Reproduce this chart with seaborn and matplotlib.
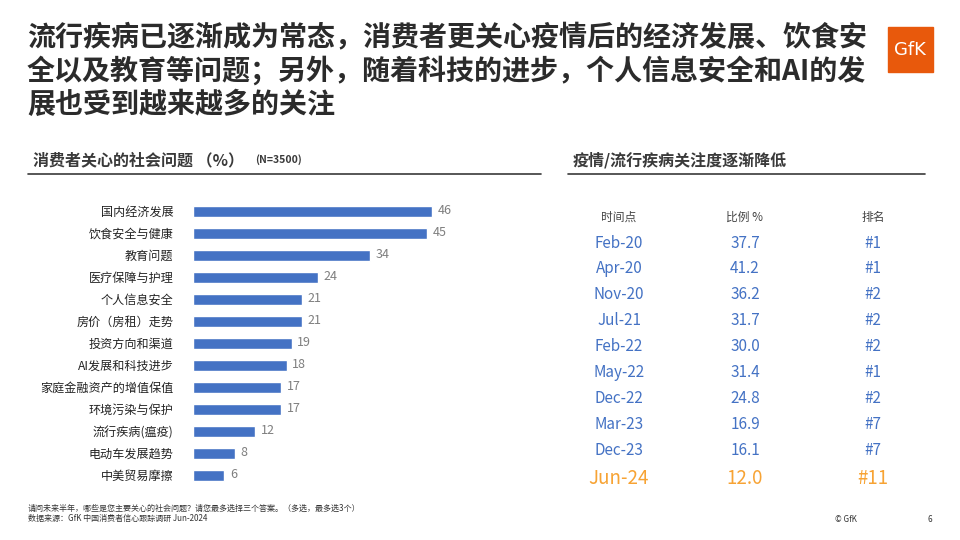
import matplotlib
matplotlib.use("Agg")
import matplotlib.pyplot as plt
import seaborn as sns
from matplotlib.patches import Rectangle

# Data
issues = ["国内经济发展", "饮食安全与健康", "教育问题", "医疗保障与护理", "个人信息安全",
          "房价（房租）走势", "投资方向和渠道", "AI发展和科技进步", "家庭金融资产的增值保值",
          "环境污染与保护", "流行疾病(瘟疫)", "电动车发展趋势", "中美贸易摩擦"]
shares = [46, 45, 34, 24, 21, 21, 19, 18, 17, 17, 12, 8, 6]

periods = ["Feb-20", "Apr-20", "Nov-20", "Jul-21", "Feb-22", "May-22",
           "Dec-22", "Mar-23", "Dec-23", "Jun-24"]
epidemic_pct = ["37.7", "41.2", "36.2", "31.7", "30.0", "31.4", "24.8", "16.9", "16.1", "12.0"]
ranks = ["#1", "#1", "#2", "#2", "#2", "#1", "#2", "#7", "#7", "#11"]
table_header = ["时间点", "比例 %", "排名"]

BLUE = "#4472C4"
ORANGE = "#F7A334"
DARK = "#3a3a3a"

sns.set_theme(style="white")
plt.rcParams["font.family"] = ["Noto Sans CJK SC", "DejaVu Sans"]

fig = plt.figure(figsize=(9.6, 5.4), dpi=100)

# Title
fig.text(27 / 960, 1 - 23 / 540,
         "流行疾病已逐渐成为常态，消费者更关心疫情后的经济发展、饮食安\n"
         "全以及教育等问题；另外，随着科技的进步，个人信息安全和AI的发\n"
         "展也受到越来越多的关注",
         fontsize=20.2, fontweight="bold", color="#2b2b2b", va="top", ha="left",
         linespacing=1.22)

# GfK logo
fig.patches.append(Rectangle((888 / 960, 1 - 72 / 540), 45 / 960, 45 / 540,
                             transform=fig.transFigure, color="#E8590C", zorder=1))
fig.text(910 / 960, 1 - 50 / 540, "GfK", color="white", fontsize=13,
         ha="center", va="center", family="DejaVu Sans")

# Section headers
fig.text(33 / 960, 1 - 160 / 540, "消费者关心的社会问题 （%）", fontsize=11.5,
         fontweight="bold", color=DARK, va="center")
fig.text(255 / 960, 1 - 160 / 540, "(N=3500)", fontsize=7.5, fontweight="bold",
         color=DARK, va="center")
fig.add_artist(plt.Line2D([28 / 960, 541 / 960], [1 - 174 / 540] * 2,
                          color=DARK, lw=1.2, transform=fig.transFigure))
fig.text(573 / 960, 1 - 160 / 540, "疫情/流行疾病关注度逐渐降低", fontsize=11.5,
         fontweight="bold", color=DARK, va="center")
fig.add_artist(plt.Line2D([568 / 960, 925 / 960], [1 - 174 / 540] * 2,
                          color=DARK, lw=1.2, transform=fig.transFigure))

# Bar chart
ax = fig.add_axes([193 / 960, 1 - 486 / 540, 312 / 960, 286 / 540])
sns.barplot(x=shares, y=issues, color=BLUE, orient="h", width=0.5,
            saturation=1, ax=ax)
ax.set_xlim(0, 60)
ax.set_ylim(12.5, -0.5)
ax.bar_label(ax.containers[0], padding=4, color="#7f7f7f", fontsize=9)
ax.set_xticks([])
ax.tick_params(axis="y", length=0, pad=14, labelsize=8.7, labelcolor="#222222")
ax.set_xlabel("")
ax.set_ylabel("")
sns.despine(ax=ax, left=True, bottom=True)

# Table of epidemic concern over time
tab = fig.add_axes([560 / 960, 1 - 492 / 540, 370 / 960, 292 / 540])
tab.set_xlim(0, 370)
tab.set_ylim(9.61, -1.66)
tab.axis("off")
col_x = [59, 185, 313]
for cx, head in zip(col_x, table_header):
    tab.text(cx, -1.0, head, ha="center", va="center", fontsize=8.5, color="#444444")
for i, (p, v, r) in enumerate(zip(periods, epidemic_pct, ranks)):
    last = i == len(periods) - 1
    color = ORANGE if last else BLUE
    size = 13.5 if last else 11
    y = i + 0.08 if last else i
    for cx, s in zip(col_x, (p, v, r)):
        tab.text(cx, y, s, ha="center", va="center", fontsize=size, color=color)

# Footer
fig.text(28 / 960, 1 - 508 / 540,
         "请问未来半年，哪些是您主要关心的社会问题？请您最多选择三个答案。（多选，最多选3个）",
         fontsize=5.8, color="#333333", va="center")
fig.text(28 / 960, 1 - 518 / 540, "数据来源：GfK 中国消费者信心跟踪调研 Jun-2024",
         fontsize=5.8, color="#333333", va="center")
fig.text(835 / 960, 1 - 519 / 540, "© GfK", fontsize=5.8, color="#333333", va="center")
fig.text(928 / 960, 1 - 519 / 540, "6", fontsize=5.8, color="#333333", va="center")

fig.savefig("out.png", dpi=100)
